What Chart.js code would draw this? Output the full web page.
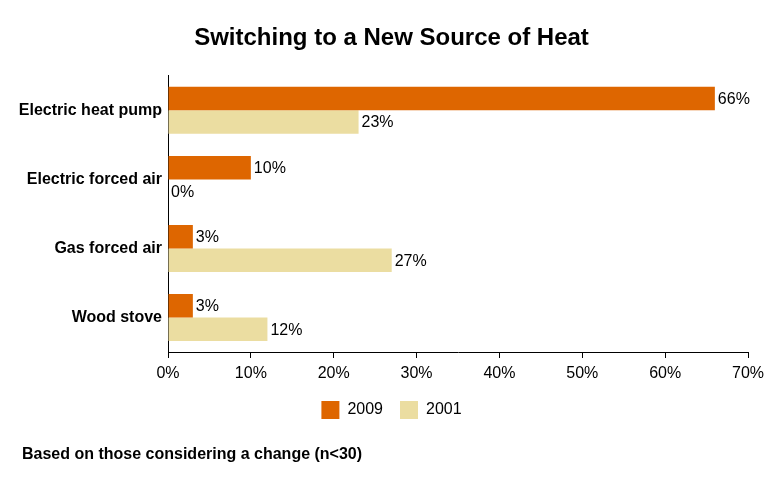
<!DOCTYPE html>
<html>
<head>
<meta charset="utf-8">
<script src="https://cdn.jsdelivr.net/npm/chart.js@4.4.0/dist/chart.umd.min.js"></script>
<style>
html,body{margin:0;padding:0;background:#fff;}
#wrap{width:783px;height:487px;position:relative;}
</style>
</head>
<body>
<div id="wrap"><canvas id="c" width="783" height="487"></canvas></div>
<script>
const categories = ["Electric heat pump", "Electric forced air", "Gas forced air", "Wood stove"];
const series2009 = [66, 10, 3, 3];
const series2001 = [23, 0, 27, 12];
const seriesNames = ["2009", "2001"];
const xTicks = [0, 10, 20, 30, 40, 50, 60, 70];
const titleText = "Switching to a New Source of Heat";
const footnote = "Based on those considering a change (n<30)";

const FONT = "'Liberation Sans', Arial, sans-serif";

const labelPlugin = {
  id: 'barLabels',
  afterDatasetsDraw(chart) {
    const ctx = chart.ctx;
    ctx.save();
    ctx.font = "16px " + FONT;
    ctx.fillStyle = "#000";
    ctx.textBaseline = "middle";
    ctx.textAlign = "left";
    chart.data.datasets.forEach((ds, i) => {
      const meta = chart.getDatasetMeta(i);
      meta.data.forEach((bar, j) => {
        ctx.fillText(ds.data[j] + "%", bar.x + 3, bar.y + 1);
      });
    });
    ctx.restore();
  }
};

const footPlugin = {
  id: 'foot',
  afterDraw(chart) {
    const ctx = chart.ctx;
    ctx.save();
    ctx.font = "bold 16px " + FONT;
    ctx.fillStyle = "#000";
    ctx.textBaseline = "middle";
    ctx.textAlign = "left";
    ctx.fillText(footnote, 22, 455);
    ctx.restore();
  }
};

new Chart(document.getElementById('c'), {
  type: 'bar',
  data: {
    labels: categories,
    datasets: [
      { label: seriesNames[0], data: series2009, backgroundColor: '#DE6600', borderWidth: 0 },
      { label: seriesNames[1], data: series2001, backgroundColor: '#EBDDA1', borderWidth: 0 }
    ]
  },
  options: {
    indexAxis: 'y',
    responsive: false,
    animation: false,
    devicePixelRatio: 1,
    datasets: { bar: { categoryPercentage: 0.68, barPercentage: 1.0 } },
    layout: { padding: { left: 0, right: 0, top: 0, bottom: 58 } },
    plugins: {
      title: {
        display: true,
        text: titleText,
        font: { family: FONT, size: 24, weight: 'bold' },
        color: '#000',
        padding: { top: 24, bottom: 23 }
      },
      legend: {
        position: 'bottom',
        labels: {
          font: { family: FONT, size: 16 },
          color: '#000',
          boxWidth: 18,
          boxHeight: 18,
          padding: 17
        }
      },
      tooltip: { enabled: false }
    },
    scales: {
      x: {
        min: 0, max: 70,
        afterBuildTicks(scale) { scale.ticks = xTicks.map(v => ({ value: v })); },
        afterFit(scale) { scale.height = 32; scale.paddingRight = 35; scale.paddingLeft = 0; },
        ticks: {
          callback: v => v + '%',
          font: { family: FONT, size: 16 },
          color: '#000',
          padding: 6
        },
        grid: { drawOnChartArea: false, drawTicks: true, tickLength: 6, color: '#000' },
        border: { display: true, color: '#000', width: 1 }
      },
      y: {
        afterFit(scale) { scale.width = 168; },
        ticks: {
          font: { family: FONT, size: 16, weight: 'bold' },
          color: '#000',
          padding: 6
        },
        grid: { display: false, drawTicks: false },
        border: { display: true, color: '#000', width: 1 }
      }
    }
  },
  plugins: [labelPlugin, footPlugin]
});
</script>
</body>
</html>
